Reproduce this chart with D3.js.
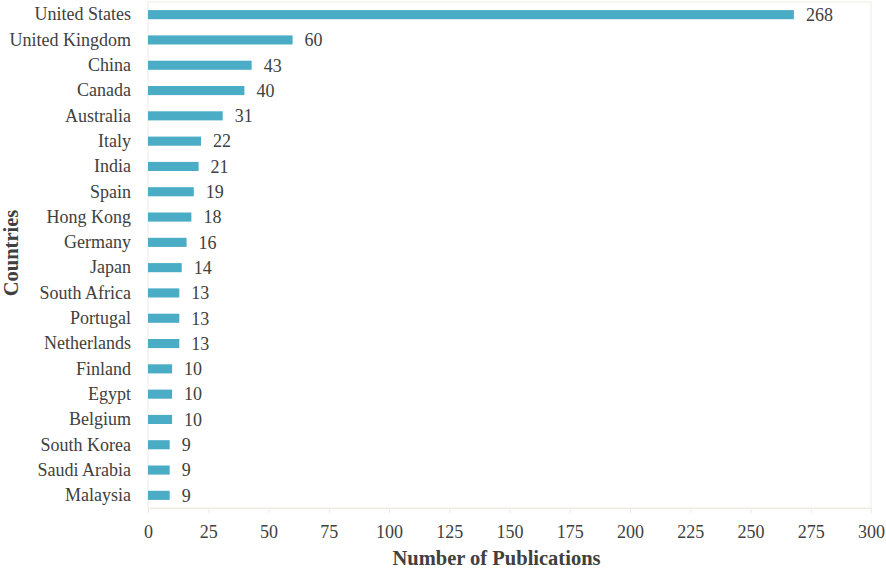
<!DOCTYPE html>
<html>
<head>
<meta charset="utf-8">
<script src="https://cdn.jsdelivr.net/npm/d3@7/dist/d3.min.js"></script>
<style>
  body { margin: 0; background: #fff; }
  svg text { font-family: "Liberation Serif", "Times New Roman", serif !important; fill: #404040; }
</style>
</head>
<body>
<div class="chart"></div>
<script>
// data
var countries = ["United States", "United Kingdom", "China", "Canada", "Australia", "Italy",
    "India", "Spain", "Hong Kong", "Germany", "Japan", "South Africa", "Portugal",
    "Netherlands", "Finland", "Egypt", "Belgium", "South Korea", "Saudi Arabia", "Malaysia"];
var publications = [268, 60, 43, 40, 31, 22, 21, 19, 18, 16, 14, 13, 13, 13, 10, 10, 10, 9, 9, 9];
var xTicks = [0, 25, 50, 75, 100, 125, 150, 175, 200, 225, 250, 275, 300];

var svgWidth = 886;
var svgHeight = 570;

var margin = { top: 2, bottom: 62, left: 148, right: 15 };

var chartWidth = svgWidth - margin.left - margin.right;
var chartHeight = svgHeight - margin.top - margin.bottom;

var svg = d3.select(".chart")
    .append("svg")
    .attr("width", svgWidth)
    .attr("height", svgHeight);

var chartGroup = svg.append("g")
    .attr("transform", `translate(${margin.left}, ${margin.top})`);

var data = countries.map(function(c, i) {
    return { country: c, value: publications[i] };
});

// scales
var xScale = d3.scaleLinear()
    .domain([0, 300])
    .range([0, chartWidth]);

var yScale = d3.scaleBand()
    .domain(countries)
    .range([0, chartHeight])
    .paddingInner(0.64)
    .paddingOuter(0.32);

// plot frame
chartGroup.append("rect")
    .attr("x", 0)
    .attr("y", 0)
    .attr("width", chartWidth)
    .attr("height", chartHeight)
    .attr("fill", "none")
    .attr("stroke", "#efece2")
    .attr("stroke-width", 1);

// x axis
var bottomAxis = d3.axisBottom(xScale)
    .tickValues(xTicks)
    .tickSize(5)
    .tickPadding(12);

var xAxis = chartGroup.append("g")
    .attr("transform", `translate(0, ${chartHeight})`)
    .call(bottomAxis);
xAxis.select(".domain").attr("stroke", "#efece2");
xAxis.selectAll(".tick line").attr("stroke", "#efece2");
xAxis.selectAll(".tick text")
    .attr("font-size", "18px")
    .attr("fill", "#404040");

// y axis
var leftAxis = d3.axisLeft(yScale)
    .tickSize(0)
    .tickPadding(17);

var yAxis = chartGroup.append("g").call(leftAxis);
yAxis.select(".domain").remove();
yAxis.selectAll(".tick text")
    .attr("font-size", "18px")
    .attr("fill", "#404040");

// bars
chartGroup.selectAll(".bar")
    .data(data)
    .enter()
    .append("rect")
    .attr("class", "bar")
    .attr("x", 0)
    .attr("y", d => yScale(d.country))
    .attr("width", d => xScale(d.value))
    .attr("height", yScale.bandwidth())
    .attr("fill", "#4bacc6");

// value labels
chartGroup.selectAll(".val")
    .data(data)
    .enter()
    .append("text")
    .attr("class", "val")
    .attr("x", d => xScale(d.value) + 12)
    .attr("y", d => yScale(d.country) + yScale.bandwidth() / 2)
    .attr("dy", "0.35em")
    .attr("font-size", "18px")
    .text(d => d.value);

// axis titles
chartGroup.append("text")
    .attr("transform", "rotate(-90)")
    .attr("x", 0 - chartHeight / 2 + 2)
    .attr("y", 0 - margin.left + 18)
    .attr("text-anchor", "middle")
    .attr("font-size", "20.5px")
    .attr("font-weight", "bold")
    .text("Countries");

chartGroup.append("text")
    .attr("x", chartWidth / 2 - 13)
    .attr("y", chartHeight + 57)
    .attr("text-anchor", "middle")
    .attr("font-size", "20.5px")
    .attr("font-weight", "bold")
    .text("Number of Publications");
</script>
</body>
</html>
